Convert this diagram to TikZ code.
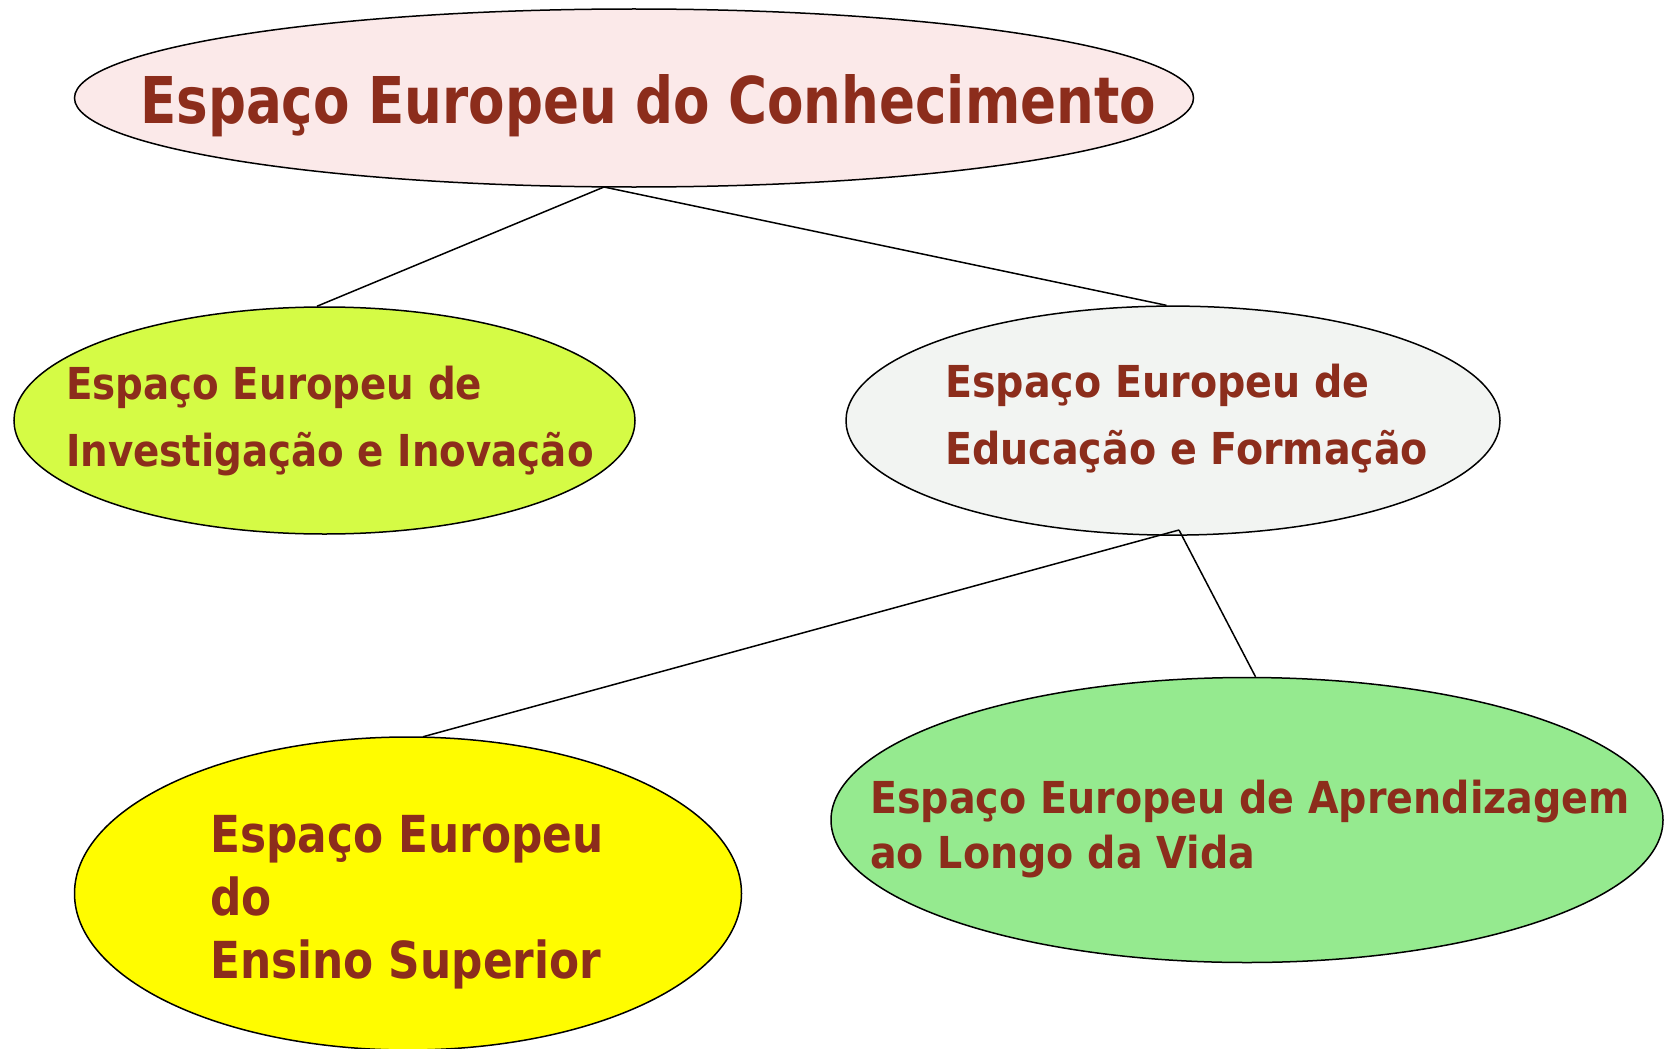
\documentclass[tikz,border=0pt]{standalone}
\usepackage{fontspec}
\setmainfont{DejaVu Sans Condensed}
\newfontfamily\topfont[FakeStretch=0.915]{DejaVu Sans Condensed}
\newfontfamily\leftfont[FakeStretch=0.98]{DejaVu Sans Condensed}
\newfontfamily\yelfont[FakeStretch=0.955]{DejaVu Sans Condensed}
\usetikzlibrary{shapes.geometric}
\definecolor{txt}{RGB}{140,45,28}
\definecolor{fpink}{RGB}{251,233,233}
\definecolor{flime}{RGB}{213,251,69}
\definecolor{fgray}{RGB}{242,244,242}
\definecolor{fgreen}{RGB}{149,234,143}
\definecolor{fyellow}{RGB}{255,252,0}
\tikzset{
  oval/.style={ellipse, draw=black, line width=1.5pt, inner sep=0pt},
  lbl/.style={anchor=base west, inner sep=0pt, text=txt, align=left},
  conn/.style={draw=black, line width=1.5pt}
}
\begin{document}
\begin{tikzpicture}[x=1pt,y=-1pt]
\useasboundingbox (0,0) rectangle (1668,1049);
\node[oval, fill=fpink, minimum width=1119pt, minimum height=178pt] (top) at (634,98) {};
\node[oval, fill=flime, minimum width=621pt, minimum height=227pt] (left) at (324.5,420.5) {};
\node[oval, fill=fgray, minimum width=654pt, minimum height=229pt] (right) at (1173,420.6) {};
\node[oval, fill=fgreen, minimum width=832pt, minimum height=285pt] (green) at (1247,820) {};
\node[oval, fill=fyellow, minimum width=667pt, minimum height=313pt] (yellow) at (408,893.5) {};
\coordinate (j1) at (604,187);
\coordinate (j2) at (1179,530);
\draw[conn] (j1) -- ([xshift=-7.5pt]left.north);
\draw[conn] (j1) -- ([xshift=-6.5pt]right.north);
\draw[conn] (j2) -- ([xshift=15pt,yshift=-0.5pt]yellow.north);
\draw[conn] (j2) -- ([xshift=8.5pt]green.north);
\node[lbl, font=\topfont\bfseries\fontsize{64.5}{64.5}\selectfont] (ttop) at (140,123) {Espaço Europeu do Conhecimento};
\node[lbl, font=\leftfont\bfseries\fontsize{44}{67}\selectfont] (tleft) at (66,466) {Espaço Europeu de\\Investigação e Inovação};
\node[lbl, font=\bfseries\fontsize{44}{67}\selectfont] (tright) at (945,464) {Espaço Europeu de\\Educação e Formação};
\node[lbl, font=\bfseries\fontsize{44}{55}\selectfont] (tgreen) at (870,868) {Espaço Europeu de Aprendizagem\\ao Longo da Vida};
\node[lbl, font=\yelfont\bfseries\fontsize{51}{63}\selectfont] (tyellow) at (210,978) {Espaço Europeu\\do\\Ensino Superior};
\end{tikzpicture}
\end{document}
